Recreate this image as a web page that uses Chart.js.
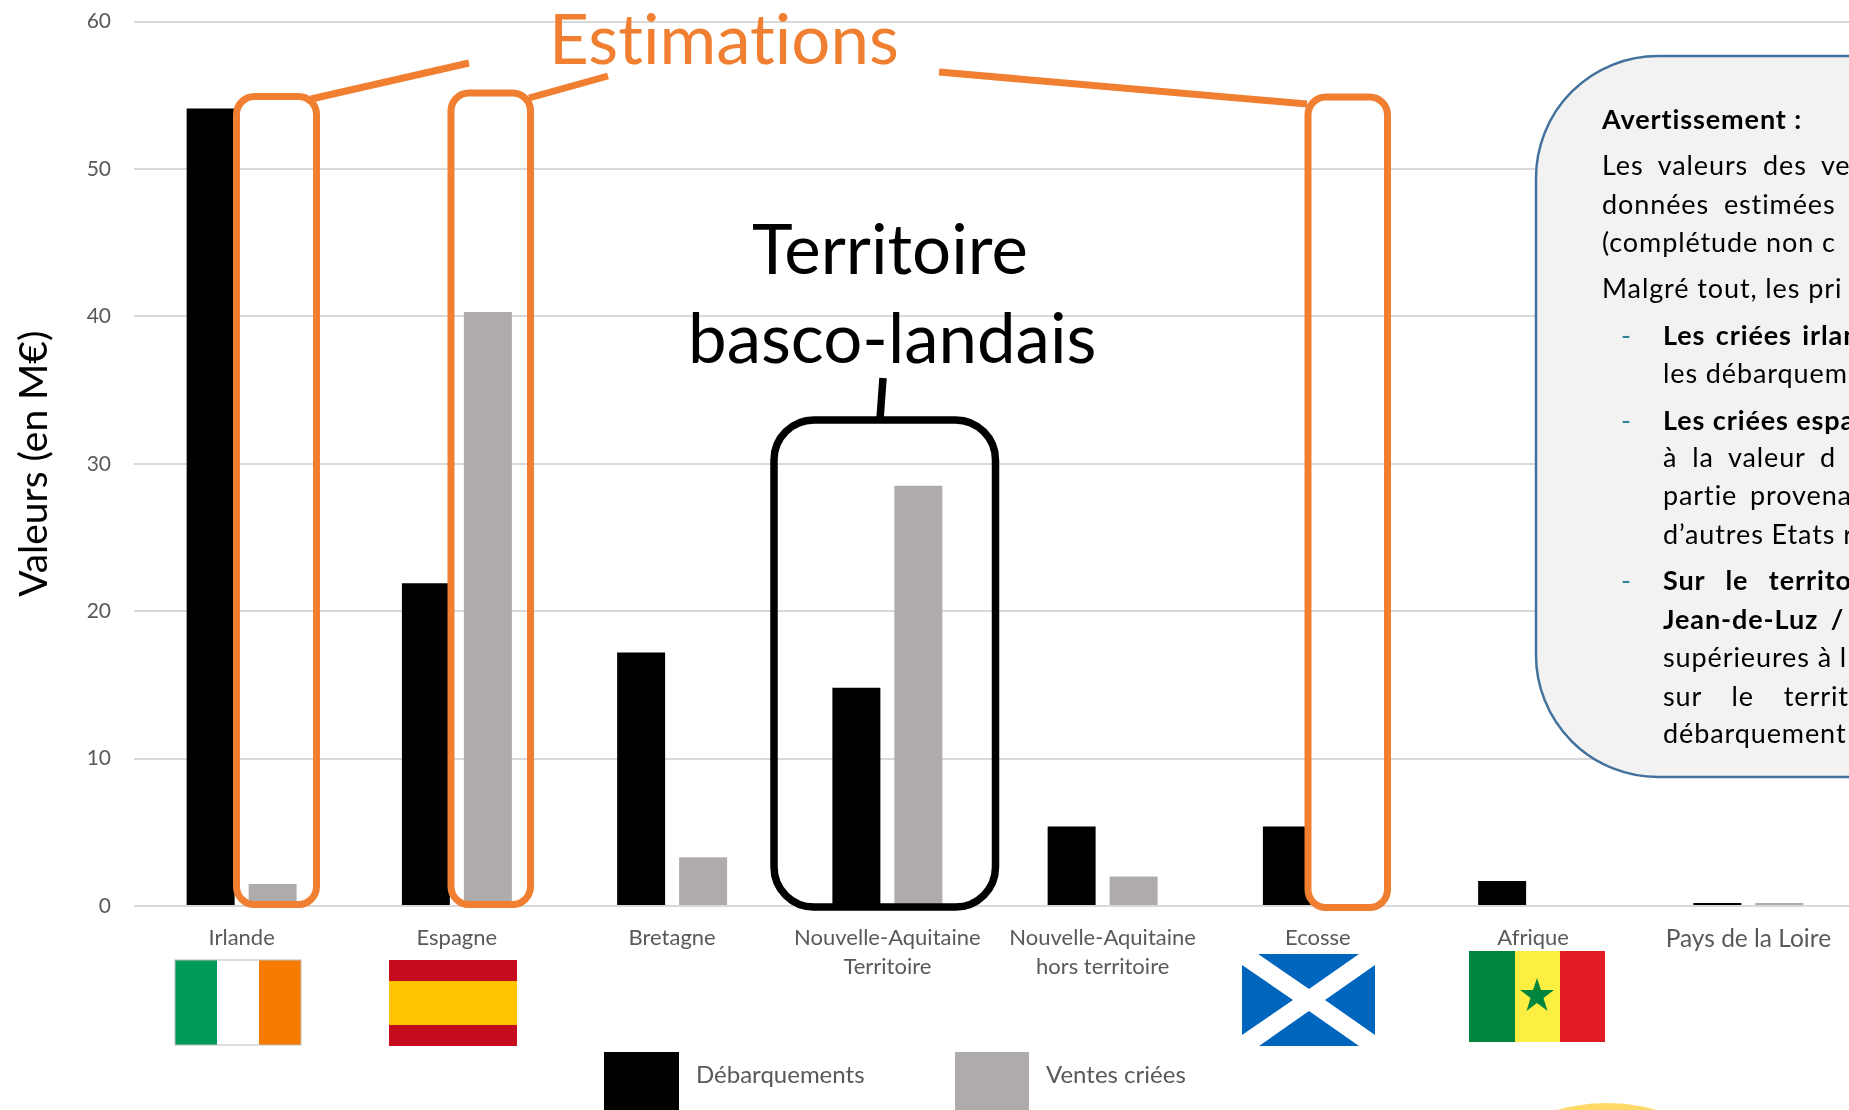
<!DOCTYPE html>
<html lang="fr">
<head>
<meta charset="utf-8">
<script src="https://cdn.jsdelivr.net/npm/chart.js@4"></script>
<style>
html,body{margin:0;padding:0;background:#fff;overflow:hidden;width:1849px;height:1110px}
#stage{position:relative;width:1849px;height:1110px;overflow:hidden;font-family:Lato,sans-serif;font-variant-ligatures:none}
#c{position:absolute;left:0;top:0}
svg{position:absolute;left:0;top:0}
.t{position:absolute;white-space:pre;line-height:1}
.big{font-size:69px;color:#000}
.est{font-size:69px;color:#F07F31}
.w{font-size:27px;color:#000;height:30px;line-height:30px;letter-spacing:.9px}
.b{font-weight:700}
.dash{color:#2E7F96}
.leg{font-size:24px;color:#595959}
.sw{position:absolute}
</style>
</head>
<body>
<div id="stage">
<canvas id="c" width="1856" height="1110"></canvas>
<svg width="1849" height="1110" viewBox="0 0 1849 1110">
  <ellipse cx="1607" cy="1283" rx="180" ry="180" fill="#FFD966"/>
  <!-- warning box -->
  <rect x="1536" y="56" width="500" height="721" rx="122" ry="122" fill="#F2F2F2" stroke="#41719C" stroke-width="2.5"/>
  <!-- estimation frames -->
  <g fill="none" stroke="#F07F31" stroke-width="7">
    <rect x="236.5" y="96.5" width="80" height="808" rx="18"/>
    <rect x="451" y="93" width="79.5" height="811.5" rx="18"/>
    <rect x="1308" y="97" width="79.5" height="810.5" rx="18"/>
    <line x1="311" y1="99" x2="469" y2="63"/>
    <line x1="529" y1="98" x2="608" y2="76"/>
    <line x1="939" y1="72" x2="1307" y2="104"/>
  </g>
  <!-- territory frame -->
  <g fill="none" stroke="#000" stroke-width="7.5">
    <rect x="774" y="420" width="221.5" height="487" rx="40"/>
    <line x1="883" y1="378" x2="880" y2="419"/>
  </g>
  <!-- flags -->
  <g>
    <rect x="175" y="960" width="42" height="85" fill="#009A5B"/>
    <rect x="217" y="960" width="42" height="85" fill="#FFFFFF"/>
    <rect x="259" y="960" width="42" height="85" fill="#F57C00"/>
    <rect x="175" y="960" width="126" height="85" fill="none" stroke="#BDBDBD" stroke-width="1"/>
    <rect x="389" y="960" width="128" height="86" fill="#C60B1E"/>
    <rect x="389" y="981" width="128" height="44" fill="#FFC400"/>
    <g fill="#0065BD">
      <polygon points="1258,954 1359,954 1309,989"/>
      <polygon points="1242,965 1242,1035 1293,1000"/>
      <polygon points="1375,965 1375,1035 1325,1000"/>
      <polygon points="1259,1046 1359,1046 1309,1011"/>
    </g>
    <rect x="1469" y="951" width="46" height="91" fill="#00853F"/>
    <rect x="1515" y="951" width="45" height="91" fill="#FDEF42"/>
    <rect x="1560" y="951" width="45" height="91" fill="#E31B23"/>
    <polygon points="1537,978 1541,990 1554,990 1543.500,998 1547.500,1011 1537,1003 1526.500,1011 1530.500,998 1520,990 1533,990" fill="#00853F"/>
  </g>
</svg>
<div class="t est" style="left:549px;top:3px">Estimations</div>
<div class="t big" style="left:752px;top:213px">Territoire</div>
<div class="t big" style="left:688px;top:302px">basco-landais</div>

<div class="t w b" style="left:1602px;top:104px">Avertissement :</div>
<div class="t w" style="left:1602px;top:150px;word-spacing:7px">Les valeurs des ve</div>
<div class="t w" style="left:1602px;top:189px;word-spacing:7px">données estimées</div>
<div class="t w" style="left:1602px;top:227px">(complétude non c</div>
<div class="t w" style="left:1602px;top:273px">Malgré tout, les pri</div>
<div class="t w dash" style="left:1621px;top:320px">-</div>
<div class="t w b" style="left:1663px;top:320px;word-spacing:3px">Les criées irlan</div>
<div class="t w" style="left:1663px;top:358px">les débarquem</div>
<div class="t w dash" style="left:1621px;top:405px">-</div>
<div class="t w b" style="left:1663px;top:405px">Les criées espa</div>
<div class="t w" style="left:1663px;top:442px;word-spacing:7px">à la valeur d</div>
<div class="t w" style="left:1663px;top:480px;word-spacing:5px">partie provena</div>
<div class="t w" style="left:1663px;top:519px">d’autres Etats r</div>
<div class="t w dash" style="left:1621px;top:565px">-</div>
<div class="t w b" style="left:1663px;top:565px;word-spacing:13px">Sur le territo</div>
<div class="t w b" style="left:1663px;top:604px;word-spacing:5px">Jean-de-Luz /</div>
<div class="t w" style="left:1663px;top:642px">supérieures à l</div>
<div class="t w" style="left:1663px;top:681px;word-spacing:22px">sur le territ</div>
<div class="t w" style="left:1663px;top:718px">débarquement</div>

<div id="legend"></div>
</div>
<script>
const categories = [
  'Irlande', 'Espagne', 'Bretagne',
  ['Nouvelle-Aquitaine', 'Territoire'],
  ['Nouvelle-Aquitaine', 'hors territoire'],
  'Ecosse', 'Afrique', 'Pays de la Loire'
];
const debarquements = [54.1, 21.9, 17.2, 14.8, 5.4, 5.4, 1.7, 0.2];
const ventesCriees = [1.5, 40.3, 3.3, 28.5, 2.0, null, null, 0.2];
const seriesNames = ['Débarquements', 'Ventes criées'];
const seriesColors = ['#000000', '#AFABAB'];
const legendBoxes = [[604, 1052, 75, 70, 696], [955, 1052, 74, 70, 1046]];

const chart = new Chart(document.getElementById('c'), {
  type: 'bar',
  data: {
    labels: categories,
    datasets: [
      { label: seriesNames[0], data: debarquements, backgroundColor: seriesColors[0] },
      { label: seriesNames[1], data: ventesCriees, backgroundColor: seriesColors[1] }
    ]
  },
  options: {
    responsive: false,
    animation: false,
    layout: { padding: { top: 21.5, left: 0, right: 0, bottom: 0 }, autoPadding: false },
    datasets: { bar: { categoryPercentage: 0.576, barPercentage: 0.774 } },
    plugins: { legend: { display: false }, tooltip: { enabled: false } },
    scales: {
      x: {
        afterFit: s => { s.height = 204; },
        grid: { display: false },
        border: { display: false },
        ticks: {
          autoSkip: false, maxRotation: 0, minRotation: 0, padding: 9, color: '#595959',
          font: ctx => ({ family: 'Lato', size: ctx.index === 7 ? 24.5 : 22, lineHeight: 1.32 })
        }
      },
      y: {
        min: 0, max: 60,
        afterFit: s => { s.width = 134; s.paddingTop = 0; s.paddingBottom = 0; },
        grid: { color: '#D9D9D9', lineWidth: 2, drawTicks: false },
        border: { display: false },
        ticks: { stepSize: 10, padding: 23, color: '#595959', font: { family: 'Lato', size: 21 } },
        title: { display: true, text: 'Valeurs (en M€)', color: '#000', font: { family: 'Lato', size: 39 }, padding: { top: 11, bottom: 0 } }
      }
    }
  }
});

const host = document.getElementById('legend');
chart.data.datasets.forEach((d, i) => {
  const [x, y, w, h, tx] = legendBoxes[i];
  const sw = document.createElement('div');
  sw.className = 'sw';
  sw.style.cssText = `left:${x}px;top:${y}px;width:${w}px;height:${h}px;background:${d.backgroundColor}`;
  host.appendChild(sw);
  const t = document.createElement('div');
  t.className = 't leg';
  t.style.cssText = `left:${tx}px;top:1062px`;
  t.textContent = d.label;
  host.appendChild(t);
});
</script>
</body>
</html>
